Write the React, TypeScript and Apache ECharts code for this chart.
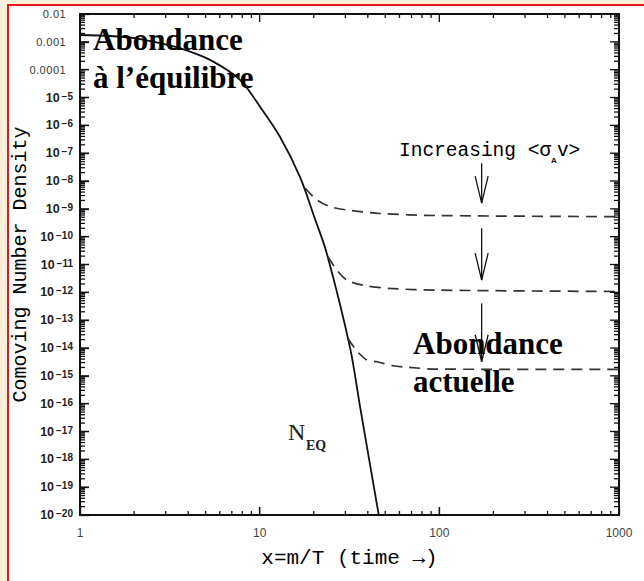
import React, { useEffect, useRef } from 'react';
import * as echarts from 'echarts';

// ---- axis ranges & tick labels ----
const X_MIN = 1;
const X_MAX = 1000;
const Y_MIN = 1e-20;
const Y_MAX = 1e-2;
const X_MID = 30;
const Y_MID = 1e-10;
const xTickLabels = ['1', '10', '100', '1000'];
const yDecimalLabels: Record<string, string> = { '-2': '0.01', '-3': '0.001', '-4': '0.0001' };
const xMajorTicks = [10, 100];
const xMinorTicks = [2, 3, 4, 5, 6, 7, 8, 9, 20, 30, 40, 50, 60, 70, 80, 90, 200, 300, 400, 500, 600, 700, 800, 900];
const minorMultipliers = [2, 3, 4, 5, 6, 7, 8, 9];

// ---- equilibrium curve N_EQ ----
const eqX = [1, 1.47, 2.0, 2.79, 3.6, 5.29, 7.77, 10.04, 12.97, 16.76, 20.3, 23.6, 31.8, 36.2, 46];
const eqY = [1.76e-3, 1.62e-3, 1.35e-3, 8.9e-4, 5.9e-4, 2.24e-4, 4.3e-5, 4.7e-6, 3.9e-7, 1.4e-8, 4.4e-10, 2.6e-11, 1.07e-14, 7.8e-17, 1e-20];

// ---- freeze-out curves (dashed) ----
const f1X = [17.9, 20.8, 24.6, 30.6, 46.7, 97, 1000];
const f1Y = [5.6e-9, 2.1e-9, 1.2e-9, 9.1e-10, 6.8e-10, 5.75e-10, 5.25e-10];
const f2X = [24.0, 26.9, 30.6, 37.6, 53.1, 97, 1000];
const f2Y = [1.9e-11, 6.3e-12, 2.75e-12, 1.8e-12, 1.38e-12, 1.2e-12, 1.07e-12];
const f3X = [31.0, 34.8, 39.5, 45, 55.2, 62.7, 97, 1000];
const f3Y = [2.2e-14, 7.8e-15, 3.7e-15, 3.2e-15, 2.3e-15, 2.1e-15, 1.74e-15, 1.7e-15];

// ---- arrows: x, y start, y end ----
const arrowX = [172, 172, 172];
const arrowYStart = [4.3e-8, 2.0e-10, 4.0e-13];
const arrowYEnd = [1.6e-9, 2.75e-12, 3.2e-15];

const zip = (xs: number[], ys: number[]) => xs.map((x, i) => [x, ys[i]]);
const GRID = { left: 80, right: 25, top: 14, bottom: 66, outerBoundsMode: 'none' };
const hiddenSplit = { show: true, lineStyle: { color: 'rgba(255,255,255,0)', opacity: 0 } };

// tick series: side = 'bottom' | 'top' | 'left' | 'right'
function tickSeries(values: number[], side: string, len: number) {
  const horizontal = side === 'bottom' || side === 'top';
  return {
    type: 'custom',
    clip: false,
    data: values.map((v) => (horizontal ? [v, Y_MID] : [X_MID, v])),
    encode: { x: 0, y: 1 },
    renderItem: (params: any, api: any) => {
      if (horizontal) {
        const x = api.coord([api.value(0), Y_MID])[0];
        const y0 = api.coord([X_MID, side === 'bottom' ? Y_MIN : Y_MAX])[1];
        const dir = side === 'bottom' ? -1 : 1;
        return { type: 'line', shape: { x1: x, y1: y0, x2: x, y2: y0 + dir * len }, style: { stroke: '#111', lineWidth: 1.3 } };
      }
      const y = api.coord([X_MID, api.value(1)])[1];
      const x0 = api.coord([side === 'left' ? X_MIN : X_MAX, Y_MID])[0];
      const dir = side === 'left' ? 1 : -1;
      return { type: 'line', shape: { x1: x0, y1: y, x2: x0 + dir * len, y2: y }, style: { stroke: '#111', lineWidth: 1.3 } };
    },
  };
}

export default function App() {
  const ref = useRef<HTMLDivElement>(null);
  const tickRef = useRef<HTMLDivElement>(null);

  useEffect(() => {
    if (!ref.current || !tickRef.current) return;
    const chart = echarts.init(ref.current, undefined, { renderer: 'svg' });
    const tickChart = echarts.init(tickRef.current, undefined, { renderer: 'svg' });

    const yMajor: number[] = [];
    const yMinor: number[] = [];
    for (let e = -19; e < -2; e++) yMajor.push(Math.pow(10, e));
    for (let e = -20; e < -2; e++) minorMultipliers.forEach((m) => yMinor.push(m * Math.pow(10, e)));

    const monoFont = 'Liberation Mono';

    const option: any = {
      animation: false,
      backgroundColor: 'transparent',
      grid: { ...GRID, show: true, borderColor: '#111', borderWidth: 2, backgroundColor: 'transparent' },
      xAxis: {
        type: 'log', min: X_MIN, max: X_MAX, interval: 1,
        name: 'x=m/T (time →)', nameLocation: 'middle', nameGap: 33, nameMoveOverlap: false,
        nameTextStyle: { fontFamily: monoFont, fontSize: 21, color: '#000' },
        axisLine: { show: true, lineStyle: { color: '#111', width: 2 } },
        axisTick: { show: true, inside: true, length: 8, lineStyle: { color: '#111', width: 1.3 } },
        axisLabel: {
          show: true, margin: 12, fontFamily: 'Liberation Sans', fontSize: 12, color: '#444',
          formatter: (v: number) => xTickLabels[Math.round(Math.log10(v))] ?? '',
        },
        splitLine: hiddenSplit,
      },
      yAxis: {
        type: 'log', min: Y_MIN, max: Y_MAX, interval: 1,
        name: 'Comoving Number Density', nameLocation: 'middle', nameGap: 50, nameMoveOverlap: false,
        nameTextStyle: { fontFamily: monoFont, fontSize: 20, color: '#000' },
        axisLine: { show: true, lineStyle: { color: '#111', width: 2 } },
        axisTick: { show: true, inside: true, length: 9, lineStyle: { color: '#111', width: 1.3 } },
        axisLabel: {
          show: true, margin: 7,
          formatter: (v: number) => {
            const e = Math.round(Math.log10(v));
            const dec = yDecimalLabels[String(e)];
            if (dec) return '{d|' + dec + '}';
            return '{b|10}{s|−' + -e + '}';
          },
          rich: {
            d: { fontFamily: 'DejaVu Sans', fontSize: 10.5, color: '#444', padding: [0, 7, 0, 0] },
            b: { fontFamily: 'Liberation Sans', fontWeight: 'bold', fontSize: 12.5, color: '#222' },
            s: { fontFamily: 'Liberation Sans', fontWeight: 'bold', fontSize: 10, color: '#222', verticalAlign: 'top', padding: [0, 0, 0, 2] },
          },
        },
        splitLine: hiddenSplit,
      },
      graphic: [
        {
          type: 'text', z: 100, x: 93, y: 39.5,
          style: { text: 'Abondance', fontFamily: 'Liberation Serif', fontWeight: 'bold', fontSize: 31, fill: '#000', verticalAlign: 'middle' },
        },
        {
          type: 'text', z: 100, x: 93, y: 77.5,
          style: { text: 'à l’équilibre', fontFamily: 'Liberation Serif', fontWeight: 'bold', fontSize: 31, fill: '#000', verticalAlign: 'middle' },
        },
        {
          type: 'text', z: 100, x: 413, y: 343.5,
          style: { text: 'Abondance', fontFamily: 'Liberation Serif', fontWeight: 'bold', fontSize: 31, fill: '#000', verticalAlign: 'middle' },
        },
        {
          type: 'text', z: 100, x: 413, y: 381,
          style: { text: 'actuelle', fontFamily: 'Liberation Serif', fontWeight: 'bold', fontSize: 31, fill: '#000', verticalAlign: 'middle' },
        },
        {
          type: 'text', z: 100, x: 399, y: 138,
          style: {
            text: '{t|Increasing <σ}{a|A}{t|v>}',
            verticalAlign: 'top',
            rich: {
              t: { fontFamily: monoFont, fontSize: 19.5, lineHeight: 26, fill: '#000' },
              a: { fontFamily: 'Liberation Sans', fontWeight: 'bold', fontSize: 8, lineHeight: 11, fill: '#111', verticalAlign: 'bottom' },
            },
          },
        },
        {
          type: 'text', z: 100, x: 288, y: 432,
          style: { text: 'N', fontFamily: 'Liberation Serif', fontSize: 24, fill: '#222', verticalAlign: 'middle' },
        },
        {
          type: 'text', z: 100, x: 306, y: 445,
          style: { text: 'EQ', fontFamily: 'Liberation Serif', fontWeight: 'bold', fontSize: 14, fill: '#222', verticalAlign: 'middle' },
        },
      ],
      series: [
        {
          type: 'line', name: 'NEQ', data: zip(eqX, eqY), smooth: 0.3, showSymbol: false,
          lineStyle: { color: '#111', width: 1.8 }, z: 3,
        },
        ...[zip(f1X, f1Y), zip(f2X, f2Y), zip(f3X, f3Y)].map((d) => ({
          type: 'line', data: d, smooth: 0.3, showSymbol: false,
          lineStyle: { color: '#333', width: 1.7, type: [11, 7] }, z: 3,
        })),
        {
          type: 'custom', clip: false,
          data: arrowX.map((x, i) => [x, arrowYStart[i], arrowYEnd[i]]),
          encode: { x: 0, y: [1, 2] },
          renderItem: (params: any, api: any) => {
            const p1 = api.coord([api.value(0), api.value(1)]);
            const p2 = api.coord([api.value(0), api.value(2)]);
            const st = { stroke: '#111', lineWidth: 1.3, fill: 'none' };
            return {
              type: 'group',
              children: [
                { type: 'line', shape: { x1: p1[0], y1: p1[1], x2: p2[0], y2: p2[1] }, style: st },
                { type: 'polyline', shape: { points: [[p2[0] - 6.5, p2[1] - 27], [p2[0], p2[1]], [p2[0] + 6.5, p2[1] - 27]] }, style: st },
              ],
            };
          },
        },
      ],
    };

    // Overlay chart with the same grid and log scales, drawing the tick marks on all four sides
    const tickOption: any = {
      animation: false,
      backgroundColor: 'transparent',
      grid: { ...GRID },
      xAxis: {
        type: 'log', min: X_MIN, max: X_MAX, interval: 1,
        axisLine: { show: true, lineStyle: { color: '#111', width: 2 } },
        axisTick: { show: false }, axisLabel: { show: false }, splitLine: hiddenSplit,
      },
      yAxis: {
        type: 'log', min: Y_MIN, max: Y_MAX, interval: 1,
        axisLine: { show: true, lineStyle: { color: '#111', width: 2 } },
        axisTick: { show: false }, axisLabel: { show: false }, splitLine: hiddenSplit,
      },
      series: [
        tickSeries(xMajorTicks, 'bottom', 8),
        tickSeries(xMajorTicks, 'top', 8),
        tickSeries(xMinorTicks, 'bottom', 4),
        tickSeries(xMinorTicks, 'top', 4),
        tickSeries(yMajor, 'left', 9),
        tickSeries(yMajor, 'right', 9),
        tickSeries(yMinor, 'left', 5),
        tickSeries(yMinor, 'right', 5),
      ],
    };

    chart.setOption(option);
    tickChart.setOption(tickOption);
    return () => {
      chart.dispose();
      tickChart.dispose();
    };
  }, []);

  return (
    <div style={{ position: 'absolute', left: 0, top: 0, width: 644, height: 581, background: '#fbefd9', overflow: 'hidden' }}>
      <div
        style={{
          position: 'absolute', left: 7, top: 4, width: 637, height: 577, background: '#ffffff',
          borderLeft: '2px solid #e8141c', borderTop: '2px solid #e8141c', boxSizing: 'border-box',
        }}
      />
      <div ref={ref} style={{ position: 'absolute', left: 0, top: 0, width: 644, height: 581 }} />
      <div ref={tickRef} style={{ position: 'absolute', left: 0, top: 0, width: 644, height: 581, pointerEvents: 'none' }} />
    </div>
  );
}
